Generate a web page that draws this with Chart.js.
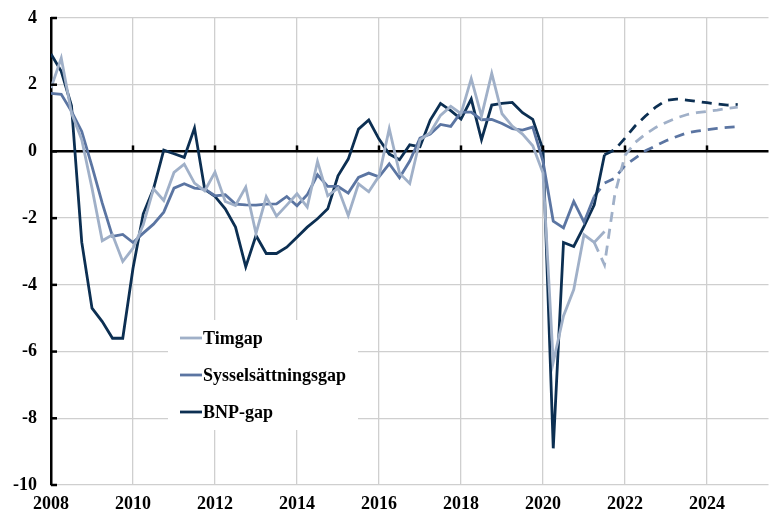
<!DOCTYPE html>
<html>
<head>
<meta charset="utf-8">
<script src="https://cdn.jsdelivr.net/npm/chart.js@4/dist/chart.umd.min.js"></script>
<style>
  html, body { margin: 0; padding: 0; background: #fff; }
  #wrap { width: 772px; height: 515px; }
</style>
</head>
<body>
<div id="wrap"><canvas id="gap"></canvas></div>
<script>
// Kvartalsdata, första kvartalet 2008 = index 0
const startYear = 2008;

const timgap = [1.9, 2.8, 1.15, 0.35, -1.1, -2.68, -2.5, -3.3, -2.9, -2.2,
  -1.12, -1.47, -0.63, -0.38, -0.95, -1.18, -0.62, -1.5, -1.62, -1.07,
  -2.46, -1.36, -1.94, -1.61, -1.27, -1.67, -0.3, -1.33, -1.1, -1.92,
  -0.97, -1.21, -0.74, 0.68, -0.65, -0.96, 0.35, 0.56, 1.08, 1.35,
  1.13, 2.18, 1.06, 2.34, 1.13, 0.76, 0.52, 0.17, -0.65, -6.32,
  -4.93, -4.14, -2.5, -2.73, -2.4];
const syssgap = [1.74, 1.71, 1.2, 0.6, -0.45, -1.55, -2.55, -2.49, -2.73, -2.45,
  -2.18, -1.82, -1.1, -0.97, -1.1, -1.13, -1.33, -1.3, -1.58, -1.6,
  -1.61, -1.58, -1.57, -1.35, -1.63, -1.3, -0.7, -1.05, -1.05, -1.25,
  -0.78, -0.65, -0.76, -0.37, -0.79, -0.29, 0.4, 0.52, 0.81, 0.75,
  1.18, 1.18, 0.95, 0.96, 0.84, 0.68, 0.64, 0.73, -0.3, -2.09,
  -2.29, -1.5, -2.12, -1.35];
const bnpgap = [2.92, 2.4, 1.37, -2.72, -4.7, -5.1, -5.6, -5.6, -3.5, -1.87,
  -1.12, 0.04, -0.07, -0.18, 0.7, -1.14, -1.35, -1.72, -2.27, -3.46,
  -2.52, -3.06, -3.06, -2.87, -2.57, -2.27, -2.02, -1.72, -0.73, -0.23,
  0.67, 0.94, 0.37, -0.08, -0.25, 0.2, 0.14, 0.94, 1.44, 1.22,
  0.97, 1.57, 0.35, 1.39, 1.44, 1.47, 1.16, 0.96, 0.05, -8.9,
  -2.73, -2.85, -2.25, -1.6, -0.1];

// Prognoser (streckade), med startindex
const timgapProgStart = 53;
const timgapProg = [-2.73, -3.4, -1.3, -0.12, 0.27, 0.52, 0.72, 0.87, 1.0, 1.1, 1.16, 1.2, 1.24, 1.29, 1.33];
const syssgapProgStart = 53;
const syssgapProg = [-1.35, -0.95, -0.8, -0.42, -0.2, 0.02, 0.17, 0.32, 0.44, 0.55, 0.61, 0.65, 0.69, 0.72, 0.74];
const bnpgapProgStart = 54;
const bnpgapProg = [-0.1, 0.05, 0.4, 0.77, 1.06, 1.33, 1.53, 1.57, 1.54, 1.5, 1.46, 1.42, 1.39, 1.41];

const seriesNames = ["Timgap", "Sysselsättningsgap", "BNP-gap"];
const seriesColors = ["#a0b0c8", "#5b75a2", "#0c2f52"];

const pts = (vals, start) => vals.map((v, i) => ({ x: startYear + (start + i) / 4, y: v }));
const FONT = '"Liberation Serif", "Times New Roman", serif';

function line(label, data, color, dashed) {
  return { label, data, borderColor: color, backgroundColor: color, borderWidth: 2.8,
    borderDash: dashed ? [10, 7] : [], pointRadius: 0, tension: 0, fill: false,
    borderCapStyle: "butt", borderJoinStyle: "miter" };
}

const axisMarks = {
  id: "axisMarks",
  afterDatasetsDraw(chart) {
    const { ctx, chartArea: a, scales: { x, y } } = chart;
    const y0 = y.getPixelForValue(0);
    ctx.save();
    ctx.strokeStyle = "#000"; ctx.lineWidth = 2.5;
    x.ticks.forEach(t => {
      if (t.value === x.min) return;
      const px = x.getPixelForValue(t.value);
      ctx.beginPath(); ctx.moveTo(px, y0); ctx.lineTo(px, y0 - 6); ctx.stroke();
    });
    y.ticks.forEach(t => {
      const py = y.getPixelForValue(t.value);
      ctx.beginPath(); ctx.moveTo(a.left, py); ctx.lineTo(a.left + 6, py); ctx.stroke();
    });
    ctx.restore();
  }
};

const innerLegend = {
  id: "innerLegend",
  afterDatasetsDraw(chart) {
    const ctx = chart.ctx;
    ctx.save();
    ctx.fillStyle = "#fff";
    ctx.fillRect(168, 320, 190, 110);
    ctx.font = "bold 18px " + FONT;
    ctx.textBaseline = "middle";
    [338, 375, 412].forEach((ry, k) => {
      ctx.strokeStyle = seriesColors[k]; ctx.lineWidth = 2.8;
      ctx.beginPath(); ctx.moveTo(180, ry); ctx.lineTo(202, ry); ctx.stroke();
      ctx.fillStyle = "#000";
      ctx.fillText(seriesNames[k], 203, ry + 1);
    });
    ctx.restore();
  }
};

new Chart(document.getElementById("gap"), {
  type: "line",
  data: { datasets: [
    line(seriesNames[0], pts(timgap, 0), seriesColors[0], false),
    line(seriesNames[1], pts(syssgap, 0), seriesColors[1], false),
    line(seriesNames[2], pts(bnpgap, 0), seriesColors[2], false),
    line(seriesNames[0] + " prognos", pts(timgapProg, timgapProgStart), seriesColors[0], true),
    line(seriesNames[1] + " prognos", pts(syssgapProg, syssgapProgStart), seriesColors[1], true),
    line(seriesNames[2] + " prognos", pts(bnpgapProg, bnpgapProgStart), seriesColors[2], true)
  ] },
  options: {
    responsive: true, maintainAspectRatio: false, animation: false,
    layout: { padding: { top: 18, right: 3.5, left: 0, bottom: 0 } },
    plugins: { legend: { display: false }, tooltip: { enabled: false } },
    scales: {
      x: {
        type: "linear", min: 2008, max: 2025.5,
        afterFit: s => { s.height = 30; s.paddingLeft = 0; s.paddingRight = 0; },
        border: { display: false },
        grid: { color: "#cfcfcf", lineWidth: 1.3, drawTicks: false },
        ticks: { stepSize: 2, includeBounds: false, padding: 9, color: "#000",
          font: { family: FONT, size: 18, weight: "bold" }, callback: v => String(v) }
      },
      y: {
        min: -10, max: 4,
        afterFit: s => { s.width = 51; s.paddingTop = 0; s.paddingBottom = 0; },
        border: { display: true, color: "#000", width: 2.5 },
        grid: { drawTicks: false,
          color: c => c.tick.value === 0 ? "#000" : "#cfcfcf",
          lineWidth: c => c.tick.value === 0 ? 2.5 : 1.3 },
        ticks: { stepSize: 2, padding: 14, color: "#000",
          font: { family: FONT, size: 18, weight: "bold" } }
      }
    }
  },
  plugins: [axisMarks, innerLegend]
});
</script>
</body>
</html>
